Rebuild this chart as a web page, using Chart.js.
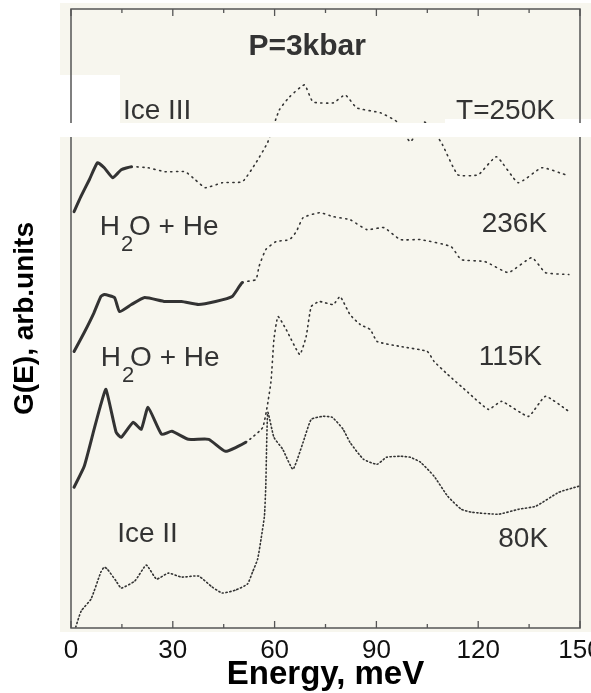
<!DOCTYPE html>
<html>
<head>
<meta charset="utf-8">
<script src="https://cdn.jsdelivr.net/npm/chart.js@4/dist/chart.umd.min.js"></script>
<style>
  html, body { margin: 0; padding: 0; background: #fff; overflow: hidden; }
  #wrap { width: 605px; height: 693px; }
</style>
</head>
<body>
<div id="wrap"><canvas id="chart" width="605" height="693"></canvas></div>
<script>
// G(E) spectra of H2O at P = 3 kbar (arb. units, curves offset)

const iceII_E = [1.4, 3, 5.9, 8.8, 9.8, 10.7, 13.3, 14.8, 18.8, 22.2, 25.2, 28.7, 32.6, 37.6, 41.6, 44.6, 48.5, 52, 53.5, 55, 56, 57, 57.4, 58, 59.8, 62.4, 65.4, 68.4, 70.8, 74.3, 77, 80.2, 82.2, 86.2, 90.2, 93, 97, 100, 103, 107, 111, 115, 118, 126, 132, 137, 143.8, 149.7];
const iceII_G = [1, 17, 29, 56, 61, 59, 47, 40, 47, 63, 49, 55, 51, 52, 41, 35, 38, 44, 56, 69, 89, 112, 142, 216, 191, 179, 159, 186, 209, 212, 211, 199, 186, 169, 164, 171, 172, 171, 166, 152, 132, 119, 116, 114, 119, 122, 136, 142];

const he115_E = [0.9, 3.9, 6.8, 8.8, 10.3, 13.3, 14.8, 18.3, 20.7, 22.7, 26.7, 29.7, 34.6, 40.6, 45.5, 51.5, 56.5, 58.9, 59.8, 61, 63.4, 67.4, 69.3, 70.8, 73.2, 77.3, 79.3, 82.2, 85.2, 88.2, 90.2, 97, 105, 107, 111, 117, 123, 126.9, 134.8, 139.8, 146.7];
const he115_G = [141, 162, 199, 224, 239, 196, 191, 206, 199, 221, 194, 197, 189, 189, 177, 186, 201, 246, 289, 312, 299, 274, 292, 322, 327, 324, 332, 314, 304, 299, 287, 282, 277, 267, 254, 236, 219, 227, 212, 232, 217];

const he236_E = [0.9, 3.9, 6.8, 8.8, 9.8, 12.8, 14.3, 17.8, 21.7, 27.7, 32.6, 37.6, 42.6, 47.5, 50.5, 54.5, 55.4, 57.4, 60.4, 64.4, 66.4, 68.4, 73.3, 77.3, 82.2, 87.2, 92.2, 97.1, 103, 112, 115, 122, 128.9, 135.8, 139.8, 146.7];
const he236_G = [277, 296, 316, 332, 334, 331, 317, 324, 331, 327, 327, 324, 327, 332, 346, 349, 362, 379, 387, 389, 397, 411, 416, 412, 409, 399, 401, 389, 389, 382, 369, 367, 356, 371, 356, 354];

const iceIII_E = [0.9, 2.9, 5.4, 7.8, 9.8, 12.3, 14.8, 17.8, 22.7, 27.7, 33.6, 36.6, 39.6, 44.6, 50.5, 54.5, 57.9, 61.4, 64.4, 68.8, 71.3, 77.3, 80.8, 84.2, 91.2, 96.1, 100, 104, 109, 114, 120, 125.4, 131.8, 138.8, 145.7];
const iceIII_G = [417, 432, 449, 466, 461, 451, 459, 462, 461, 457, 457, 449, 441, 446, 447, 466, 486, 519, 532, 544, 527, 526, 534, 521, 516, 507, 487, 507, 487, 454, 454, 472, 446, 461, 454];

const xTickValues = [0, 15, 30, 45, 60, 75, 90, 105, 120, 135, 150];

// in-plot labels: [text, E, G, align]
const labels = [
  ['Ice III', 15.3, 510, 'left'],
  ['T=250K', 142.6, 510, 'right'],
  ['H2O + He', 8.5, 394, 'left'],
  ['236K', 140.3, 397, 'right'],
  ['H2O + He', 8.8, 262, 'left'],
  ['115K', 138.8, 263, 'right'],
  ['Ice II', 13.6, 86, 'left'],
  ['80K', 140.6, 81, 'right']
];

const INK = '#333';
const FONT = "'Liberation Sans', Arial, Helvetica, sans-serif";

function pts(xs, ys) {
  return xs.map((x, i) => ({ x: x, y: ys[i] }));
}

function curve(xs, ys, thickUntil, thinDash) {
  return {
    data: pts(xs, ys),
    borderColor: INK,
    borderWidth: 1.6,
    pointRadius: 0,
    tension: 0.15,
    borderCapStyle: 'round',
    segment: {
      borderWidth: c => (c.p0.parsed.x < thickUntil ? 3 : 1.6),
      borderDash: c => (c.p0.parsed.x < thickUntil ? [] : thinDash)
    }
  };
}

const paper = {
  id: 'paper',
  beforeDraw(chart) {
    const { ctx } = chart;
    ctx.save();
    ctx.fillStyle = '#f7f6ee';
    ctx.fillRect(60, 3, 545, 629);
    // scanner artefacts: white strips
    ctx.fillStyle = '#ffffff';
    ctx.fillRect(60, 75, 60, 48);
    ctx.fillRect(445, 119, 160, 5);
    ctx.restore();
  },
  afterDraw(chart) {
    const { ctx, chartArea: a, scales } = chart;
    ctx.save();
    ctx.strokeStyle = '#555';
    ctx.lineWidth = 1.5;
    ctx.strokeRect(a.left, a.top, a.right - a.left, a.bottom - a.top);
    ctx.lineWidth = 1.3;
    xTickValues.forEach(v => {
      const x = scales.x.getPixelForValue(v);
      const len = v % 30 === 0 ? 7 : 4;
      ctx.beginPath();
      ctx.moveTo(x, a.bottom); ctx.lineTo(x, a.bottom - len);
      ctx.moveTo(x, a.top); ctx.lineTo(x, a.top + len);
      ctx.stroke();
    });
    // white strip crosses the frame
    ctx.fillStyle = '#ffffff';
    ctx.fillRect(60, 123, 545, 14);
    ctx.restore();
  },
  afterDatasetsDraw(chart) {
    const { ctx, scales } = chart;
    ctx.save();
    ctx.fillStyle = INK;
    ctx.textBaseline = 'alphabetic';
    labels.forEach(([text, e, g, align]) => {
      const x = scales.x.getPixelForValue(e);
      const y = scales.y.getPixelForValue(g);
      ctx.font = '28px ' + FONT;
      if (text.startsWith('H2O')) {
        const h = ctx.measureText('H').width;
        ctx.textAlign = 'left';
        ctx.fillText('H', x, y);
        ctx.font = '22px ' + FONT;
        ctx.fillText('2', x + h + 1, y + 16);
        ctx.font = '28px ' + FONT;
        ctx.fillText('O + He', x + h + 9, y);
      } else {
        ctx.textAlign = align;
        ctx.fillText(text, x, y);
      }
    });
    ctx.font = 'bold 30px ' + FONT;
    ctx.textAlign = 'center';
    ctx.fillText('P=3kbar', scales.x.getPixelForValue(69.6), scales.y.getPixelForValue(574));
    ctx.restore();
  }
};

new Chart(document.getElementById('chart'), {
  type: 'line',
  data: {
    datasets: [
      curve(iceII_E, iceII_G, 0, [1.2, 2.6]),
      curve(he115_E, he115_G, 46, [1.2, 4]),
      curve(he236_E, he236_G, 48, [1.2, 4.5]),
      curve(iceIII_E, iceIII_G, 16, [1.2, 4.5])
    ]
  },
  options: {
    responsive: false,
    animation: false,
    layout: { padding: { top: 9, right: 25, left: 0, bottom: 0 } },
    plugins: { legend: { display: false }, tooltip: { enabled: false } },
    scales: {
      x: {
        type: 'linear',
        min: 0,
        max: 150,
        grid: { display: false },
        border: { display: false },
        ticks: { stepSize: 30, color: '#111', padding: -1, font: { size: 26, family: FONT } },
        title: {
          display: true,
          text: 'Energy, meV',
          color: '#000',
          font: { size: 33, weight: 'bold', family: FONT },
          padding: { top: 0, bottom: -2 }
        },
        afterFit: s => { s.height = 65; }
      },
      y: {
        min: 0,
        max: 620,
        grid: { display: false },
        border: { display: false },
        ticks: { display: false },
        title: {
          display: true,
          text: 'G(E), arb.units',
          color: '#000',
          font: { size: 28, weight: 'bold', family: FONT },
          padding: { top: 8, bottom: 0 }
        },
        afterFit: s => { s.width = 71; }
      }
    }
  },
  plugins: [paper]
});
</script>
</body>
</html>
